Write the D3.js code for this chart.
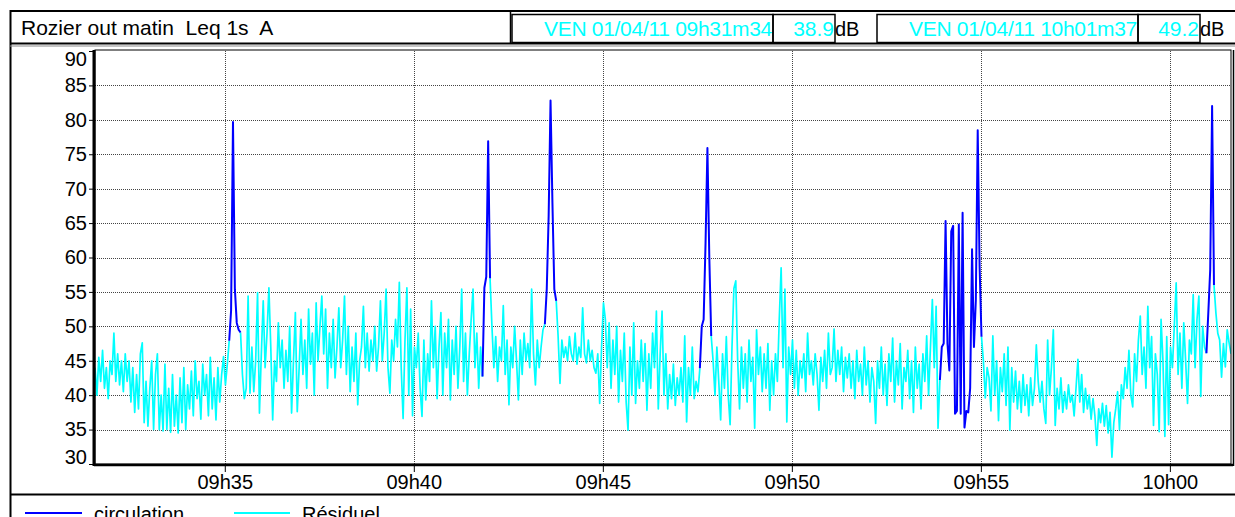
<!DOCTYPE html>
<html lang="fr">
<head>
<meta charset="utf-8">
<title>Rozier out matin Leq 1s A</title>
<script src="https://cdn.jsdelivr.net/npm/d3@7"></script>
<style>
  body { margin: 0; background: #fff; }
  svg text { font-family: "Liberation Sans", Arial, sans-serif; }
</style>
</head>
<body>
<script>
// ---- données ----
var startTime = "09:31:34";
var endTime = "10:01:37";
var sampleStep = 3; // secondes entre deux valeurs
// Leq 1s (dB(A)), une valeur toutes les 3 s depuis 09h31m34
var levels = [
  44, 40, 45.5, 42, 46.5, 41, 44, 39.5, 45, 43,
  49, 42, 46, 41.5, 45, 40.5, 46, 42, 45, 39,
  44, 37.5, 43, 38, 46, 47.6, 36, 42, 35.5, 41,
  45, 35, 43, 46, 35, 40, 34.8, 44.5, 35, 41,
  34.6, 43, 35.5, 40, 34.5, 42.5, 36, 44, 35, 41.5,
  38, 43.5, 37, 45, 39.5, 42, 36.5, 44.5, 40, 43,
  37, 45.5, 38, 42.5, 36.4, 44, 39, 43, 45.6, 41.5,
  44.5, 47.9, 52.3, 79.7, 55.4, 50.5, 49.5, 49.1, 43, 39.5,
  41, 54.4, 40.3, 47, 40.5, 45, 54.9, 37.4, 46, 53.7,
  44, 49, 55.6, 47, 36.4, 45, 42, 50.5, 44, 48,
  41, 46.5, 42, 50, 37.4, 45, 52, 37.6, 44, 51,
  43, 48, 41, 52.5, 44.5, 49, 40, 53.4, 45, 50,
  54.4, 46, 52.5, 41, 49, 44, 51, 42.5, 47, 52.7,
  44, 48, 54.4, 43, 50, 40.5, 47, 42, 49, 38.6,
  45, 47, 52.9, 44, 49, 43.5, 48, 45, 50, 43.5,
  47, 53.7, 45, 49, 55.4, 44, 40.3, 48, 45, 51,
  47, 56.4, 44, 36.6, 48, 55.6, 40, 52.5, 37, 47,
  44, 49, 41, 36.9, 48, 39.3, 46, 42, 53.7, 44,
  50, 39.5, 47, 52, 40, 49, 44, 51, 39.3, 48,
  43, 50, 41, 47, 55.4, 42, 49, 40, 46, 51,
  55.4, 44, 49, 41, 47, 42.7, 55.6, 57.2, 76.9, 57,
  50, 44, 48.5, 42, 47, 45, 53, 43, 48, 38.6,
  47, 44, 50, 45, 39.3, 48, 43, 49, 45, 47.5,
  44, 55.4, 46, 41.5, 48, 44, 47, 49.5, 50.3, 55.4,
  66, 82.8, 68, 55.4, 53.7, 48.6, 41.7, 48, 45.5, 47,
  45, 48.5, 46, 45, 49, 44.5, 47, 45.5, 52.7, 46,
  44.7, 48, 45, 46.5, 44, 43.2, 46, 38.8, 47, 53.4,
  51, 44, 50.5, 41, 48, 43, 50, 39, 46.5, 42,
  49, 39, 34.9, 47, 40, 50.5, 38.8, 45, 41, 48,
  42, 47.5, 37.8, 46, 41, 49, 44, 52.2, 38, 46,
  52.2, 40, 46, 38, 43, 39.5, 44.5, 38.5, 42.5, 40,
  44, 39, 48.6, 36.1, 44, 40, 47, 39.5, 42, 40.5,
  43.9, 50, 51, 62, 75.9, 60, 48.6, 45, 40, 47,
  42, 36.4, 46, 41, 48.5, 40, 35.7, 47, 55.5, 56.6,
  45, 38, 47, 41, 46, 39, 48, 42, 45.5, 35.2,
  49.5, 43, 47, 40.5, 46, 41, 47.5, 37.8, 45, 40,
  46, 42, 51, 58.5, 44, 55.4, 36.1, 47, 43, 48,
  41, 46.5, 40, 45, 42.5, 46, 40.5, 49, 43, 45,
  41.5, 46, 43, 37.8, 45.5, 42, 46.5, 41, 49, 43,
  44, 49.6, 42, 46.5, 43, 47, 40.5, 45.5, 42.5, 46,
  41, 45, 39.5, 46.5, 42, 44.5, 40, 47, 41.5, 45,
  39, 44, 42, 35.9, 45, 41, 47, 40, 44.5, 38.5,
  46, 42, 48.3, 39, 45, 41.5, 47.5, 38, 44, 42,
  46.5, 39.5, 45, 37.5, 47, 41, 44.5, 38, 46, 42,
  48.6, 40, 47, 53.9, 44, 52.9, 35.2, 42.2, 47, 47.5,
  65.3, 47.5, 43.6, 63.8, 64.6, 37.3, 37.7, 64.8, 37.3, 66.5,
  35.3, 37.7, 37.5, 41, 61.2, 47, 53.8, 78.5, 58.7, 48.5,
  45, 39.6, 44, 42.5, 37.7, 48.6, 40, 45, 36.3, 44,
  40.5, 46, 38.5, 47, 34.9, 44, 39, 43.5, 38, 42,
  37.5, 43, 38.5, 41.5, 37, 42.5, 38.5, 41, 47.3, 42,
  39, 42, 38, 35.9, 48, 40, 44, 49.5, 35.6, 41,
  38, 42.5, 37.5, 40.5, 38, 41.5, 39, 40, 37, 41,
  45.2, 39, 43, 37.5, 41, 38, 40, 36.5, 39.5, 37,
  32.7, 38, 36, 38.8, 35.5, 38.5, 34.5, 37.5, 31, 36,
  38, 40.5, 35, 41.5, 39.5, 44, 41, 46.5, 40, 38.3,
  46, 42, 48, 51.5, 43, 47, 41, 52.9, 44, 48.5,
  35.6, 46, 43, 34.7, 51, 45, 34, 48.5, 35.7, 47,
  44, 50, 56.3, 43, 49, 41, 50.5, 45, 38.8, 48,
  46, 54.6, 44, 51, 54.4, 39.8, 50, 47, 46.1, 52,
  58.2, 82, 56, 52, 49, 48, 42.6, 47.5, 44.1, 49.5,
  47.6, 46
];
// passages codés "circulation", en secondes depuis le début
var circulationSpans = [[213, 231], [615, 627], [714, 732], [960, 978], [1341, 1407], [1764, 1776]];
var yTicks = [30, 35, 40, 45, 50, 55, 60, 65, 70, 75, 80, 85, 90];
var xTicks = ["09:35", "09:40", "09:45", "09:50", "09:55", "10:00"];
var headerCursor1 = ["VEN 01/04/11 09h31m34", "38.9"];
var headerCursor2 = ["VEN 01/04/11 10h01m37", "49.2"];
var legendNames = ["circulation", "Résiduel"];
var colors = {circulation: "#0000ff", residuel: "#00ffff"};

// ---- mise en page ----
var W = 1235, H = 517;
var plotLeft = 95, plotRight = 1231, plotTop = 51, plotBottom = 464;

var parse = d3.timeParse("%H:%M:%S");
var t0 = parse(startTime), t1 = parse(endTime);
var x = d3.scaleTime().domain([t0, t1]).range([plotLeft, plotRight]);
var y = d3.scaleLinear().domain([30, 90]).range([plotBottom, plotTop]);

var svg = d3.select("body").append("svg")
    .attr("width", W).attr("height", H);

svg.append("rect").attr("width", W).attr("height", H).attr("fill", "#fff");

// cadre extérieur
svg.append("line").attr("x1", 10.5).attr("x2", 10.5).attr("y1", 10).attr("y2", H)
    .attr("stroke", "#000").attr("stroke-width", 2);
svg.append("line").attr("x1", 10).attr("x2", W).attr("y1", 11).attr("y2", 11)
    .attr("stroke", "#000").attr("stroke-width", 2);
svg.append("line").attr("x1", 10).attr("x2", W).attr("y1", 43.5).attr("y2", 43.5)
    .attr("stroke", "#000").attr("stroke-width", 2);
svg.append("line").attr("x1", 10).attr("x2", W).attr("y1", 46).attr("y2", 46)
    .attr("stroke", "#888").attr("stroke-width", 1);
svg.append("line").attr("x1", 10).attr("x2", W).attr("y1", 494.5).attr("y2", 494.5)
    .attr("stroke", "#000").attr("stroke-width", 2);

// bandeau titre
svg.append("line").attr("x1", 510.5).attr("x2", 510.5).attr("y1", 11).attr("y2", 44)
    .attr("stroke", "#000").attr("stroke-width", 1.5);
svg.append("text").attr("x", 21).attr("y", 35)
    .attr("font-size", 21).style("white-space", "pre")
    .text("Rozier out matin  Leq 1s  A");

function cursorBox(x0, vals) {
  var g = svg.append("g");
  g.append("rect").attr("x", x0).attr("y", 14.5).attr("width", 261).attr("height", 28)
      .attr("fill", "none").attr("stroke", "#000").attr("stroke-width", 1.5);
  g.append("rect").attr("x", x0 + 261).attr("y", 14.5).attr("width", 62).attr("height", 28)
      .attr("fill", "none").attr("stroke", "#000").attr("stroke-width", 1.5);
  g.append("text").attr("x", x0 + 260).attr("y", 36).attr("text-anchor", "end")
      .attr("font-size", 21).attr("fill", colors.residuel).attr("letter-spacing", -0.3)
      .text(vals[0]);
  g.append("text").attr("x", x0 + 322).attr("y", 36).attr("text-anchor", "end")
      .attr("font-size", 21).attr("fill", colors.residuel)
      .text(vals[1]);
  g.append("text").attr("x", x0 + 323).attr("y", 36)
      .attr("font-size", 20).attr("fill", "#000")
      .text("dB");
}
cursorBox(512, headerCursor1);
cursorBox(877, headerCursor2);

// grille pointillée
var grid = svg.append("g").attr("stroke", "#444").attr("stroke-width", 1)
    .attr("stroke-dasharray", "1,1");
grid.selectAll("line.h").data(yTicks.slice(1, -1)).enter().append("line")
    .attr("x1", plotLeft).attr("x2", plotRight)
    .attr("y1", function(d) { return Math.round(y(d)) + 0.5; })
    .attr("y2", function(d) { return Math.round(y(d)) + 0.5; });
grid.selectAll("line.v").data(xTicks).enter().append("line")
    .attr("x1", function(d) { return Math.round(x(parse(d + ":00"))) + 0.5; })
    .attr("x2", function(d) { return Math.round(x(parse(d + ":00"))) + 0.5; })
    .attr("y1", plotTop).attr("y2", plotBottom);

// séries
var points = levels.map(function(v, i) {
  return {t: i * sampleStep, time: d3.timeSecond.offset(t0, i * sampleStep), v: v};
});
function inSpan(t) {
  return circulationSpans.some(function(s) { return t >= s[0] && t <= s[1]; });
}
function strictlyInSpan(t) {
  return circulationSpans.some(function(s) { return t > s[0] && t < s[1]; });
}
svg.append("clipPath").attr("id", "plot")
  .append("rect").attr("x", plotLeft).attr("y", plotTop)
  .attr("width", plotRight - plotLeft).attr("height", plotBottom - plotTop);

var lineResiduel = d3.line()
    .defined(function(d) { return !strictlyInSpan(d.t); })
    .x(function(d) { return x(d.time); })
    .y(function(d) { return y(d.v); });
var lineCirculation = d3.line()
    .defined(function(d) { return inSpan(d.t); })
    .x(function(d) { return x(d.time); })
    .y(function(d) { return y(d.v); });

svg.append("path").datum(points)
    .attr("clip-path", "url(#plot)")
    .attr("fill", "none").attr("stroke", colors.residuel).attr("stroke-width", 1.7)
    .attr("stroke-linejoin", "round")
    .attr("d", lineResiduel);
svg.append("path").datum(points)
    .attr("clip-path", "url(#plot)")
    .attr("fill", "none").attr("stroke", colors.circulation).attr("stroke-width", 2)
    .attr("stroke-linejoin", "round")
    .attr("d", lineCirculation);

// cadre du graphique
svg.append("rect").attr("x", plotLeft).attr("y", plotTop - 1)
    .attr("width", plotRight - plotLeft).attr("height", plotBottom - plotTop + 1)
    .attr("fill", "none").attr("stroke", "#000").attr("stroke-width", 1);
svg.append("line").attr("x1", plotLeft - 1).attr("x2", plotLeft - 1).attr("y1", plotTop - 1).attr("y2", plotBottom + 2)
    .attr("stroke", "#000").attr("stroke-width", 3);
svg.append("line").attr("x1", plotLeft - 1).attr("x2", plotRight + 2).attr("y1", plotBottom + 1).attr("y2", plotBottom + 1)
    .attr("stroke", "#000").attr("stroke-width", 2.5);
svg.append("line").attr("x1", plotRight + 2.5).attr("x2", plotRight + 2.5).attr("y1", plotTop - 1).attr("y2", plotBottom + 2)
    .attr("stroke", "#000").attr("stroke-width", 1.5);

// axes
var yAxis = d3.axisLeft(y).tickValues(yTicks).tickSize(4).tickPadding(2)
    .tickFormat(d3.format("d"));
var gy = svg.append("g").attr("transform", "translate(" + (plotLeft - 2) + ",0)").call(yAxis);
gy.select(".domain").remove();
gy.selectAll("text").attr("font-size", 20).attr("fill", "#000")
    .attr("font-family", "Liberation Sans, Arial, sans-serif")
    .attr("y", function(d) { return d === 90 ? 8 : (d === 30 ? -7 : 0); });

var xAxis = d3.axisBottom(x)
    .tickValues(xTicks.map(function(d) { return parse(d + ":00"); }))
    .tickSize(6).tickPadding(3)
    .tickFormat(d3.timeFormat("%Hh%M"));
var gx = svg.append("g").attr("transform", "translate(0," + (plotBottom + 2) + ")").call(xAxis);
gx.select(".domain").remove();
gx.selectAll("text").attr("font-size", 20).attr("fill", "#000")
    .attr("font-family", "Liberation Sans, Arial, sans-serif");

// légende
var legend = svg.append("g");
legend.append("line").attr("x1", 25).attr("x2", 82).attr("y1", 513).attr("y2", 513)
    .attr("stroke", colors.circulation).attr("stroke-width", 2);
legend.append("text").attr("x", 94).attr("y", 521).attr("font-size", 20)
    .attr("font-family", "Liberation Serif, Times New Roman, serif")
    .text(legendNames[0]);
legend.append("line").attr("x1", 234).attr("x2", 290).attr("y1", 513).attr("y2", 513)
    .attr("stroke", colors.residuel).attr("stroke-width", 2);
legend.append("text").attr("x", 302).attr("y", 521).attr("font-size", 20)
    .attr("font-family", "Liberation Serif, Times New Roman, serif")
    .text(legendNames[1]);
</script>
</body>
</html>
